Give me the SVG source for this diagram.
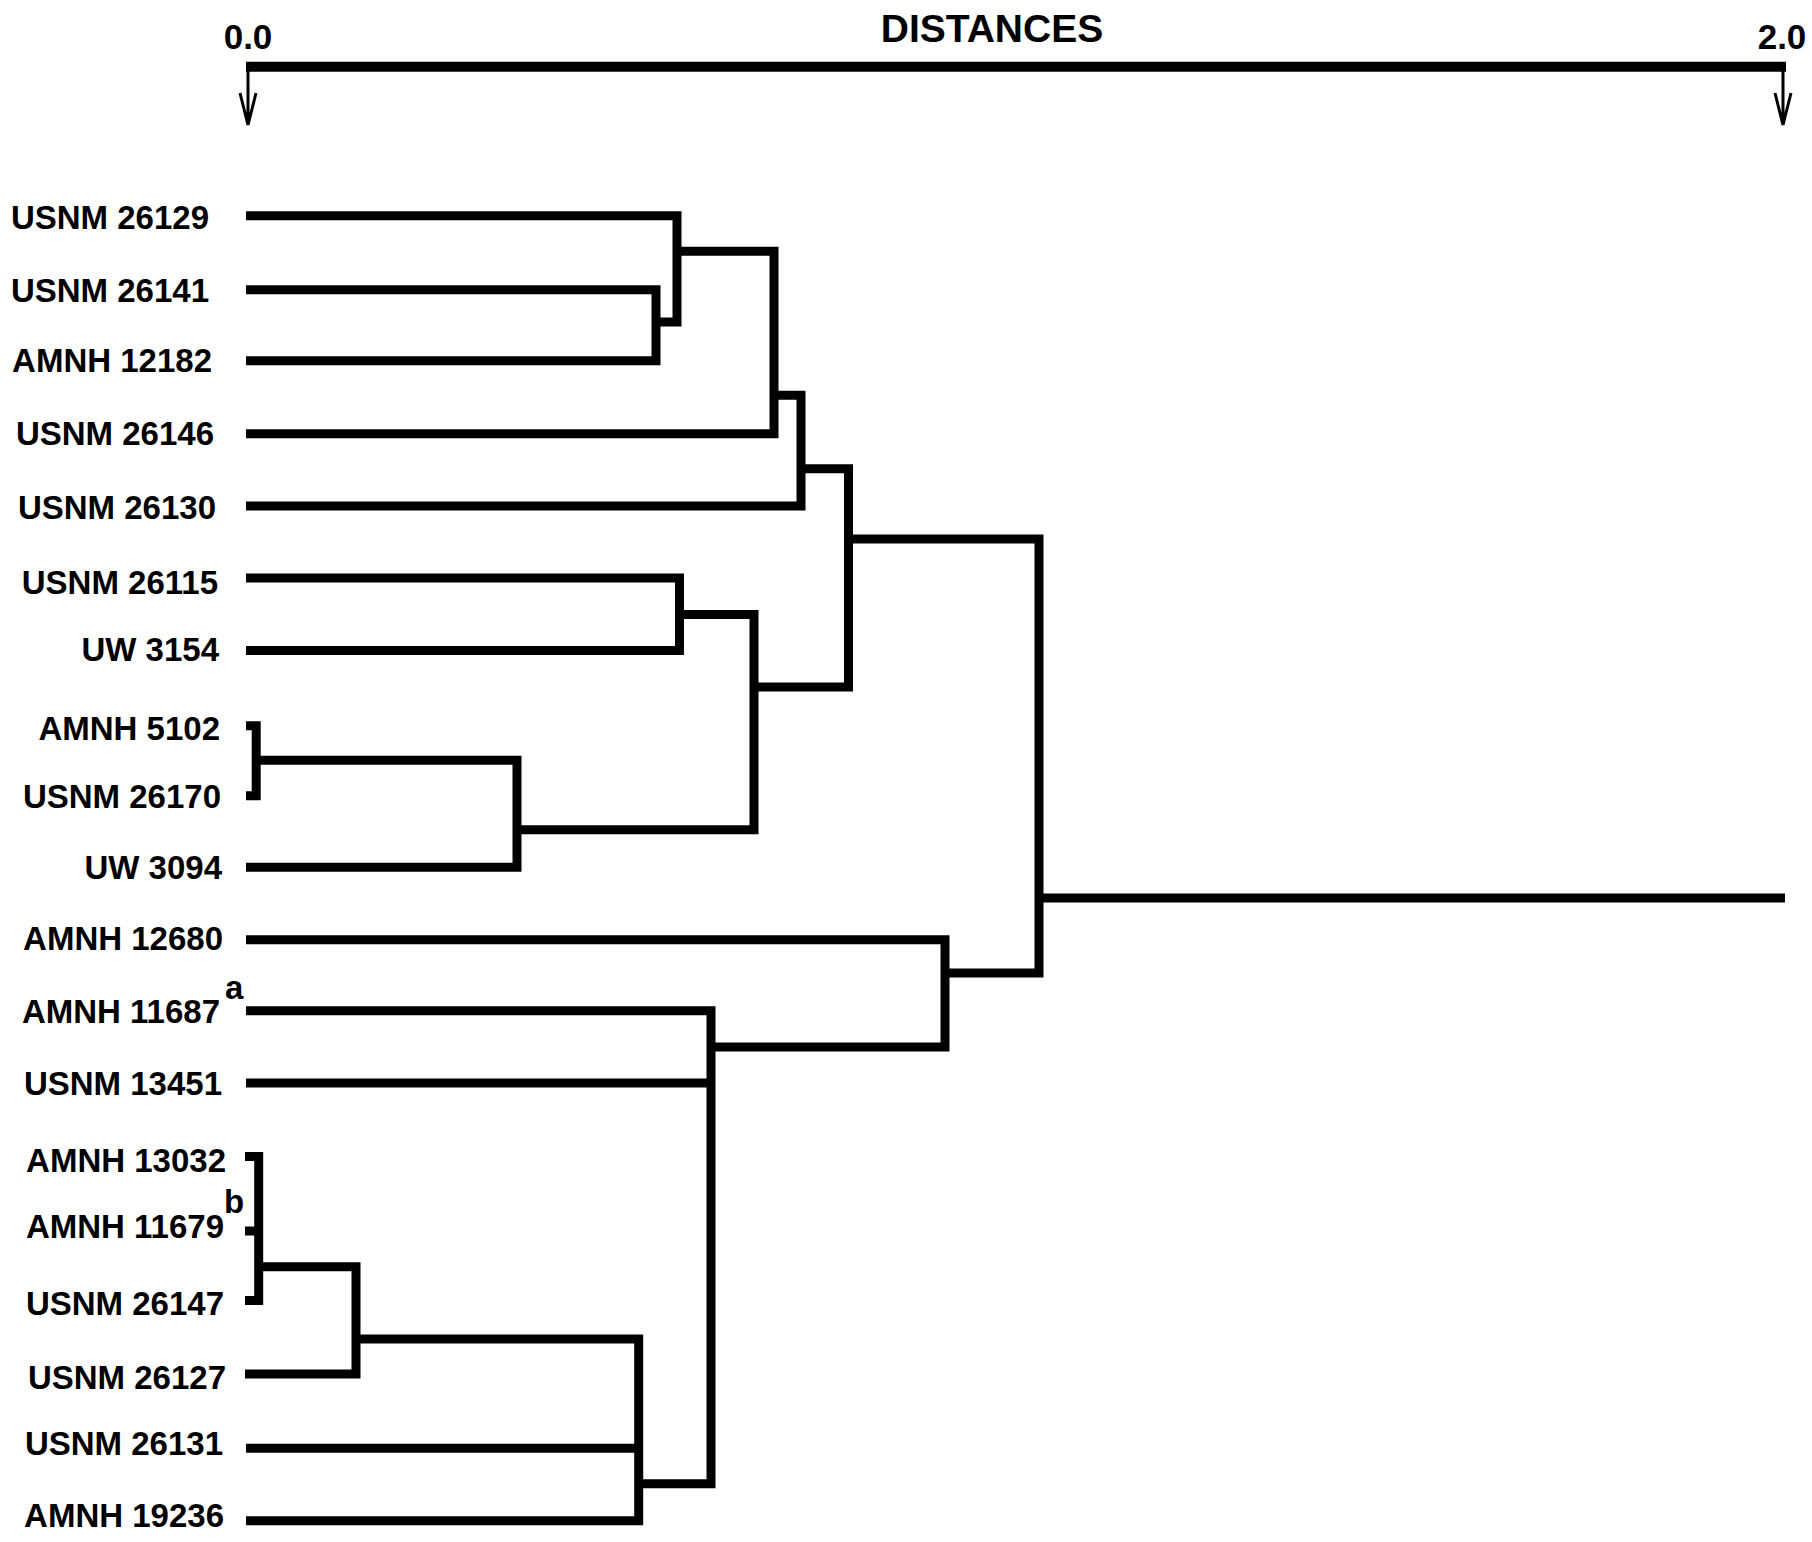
<svg xmlns="http://www.w3.org/2000/svg" width="1812" height="1542" viewBox="0 0 1812 1542">
<style>
.lbl{font-family:"Liberation Sans",Arial,sans-serif;font-weight:bold;font-size:33px;fill:#000;text-anchor:end}
.sup{font-family:"Liberation Sans",Arial,sans-serif;font-weight:bold;font-size:33px;fill:#000}
.ax{font-family:"Liberation Sans",Arial,sans-serif;font-weight:bold;fill:#000;text-anchor:middle}
.br{fill:none;stroke:#000;stroke-width:9;stroke-linecap:butt;stroke-linejoin:miter}
.thin{fill:none;stroke:#000;stroke-width:3;stroke-linecap:butt;stroke-linejoin:miter}
</style>
<rect width="1812" height="1542" fill="#fff"/>
<g id="axis">
<text class="ax" x="992" y="42" font-size="39">DISTANCES</text>
<text class="ax" x="248" y="49" font-size="35">0.0</text>
<text class="ax" x="1782" y="49" font-size="35">2.0</text>
<line x1="246" y1="66.7" x2="1786" y2="66.7" stroke="#000" stroke-width="10"/>
<path class="thin" d="M248,71 V124 M240,93 L248,125 L256,93"/>
<path class="thin" d="M1783,71 V124 M1775,93 L1783,125 L1791,93"/>
</g>
<g id="connectors">
<path class="br" d="M246,360.7 H656 V289.8 H246"/>
<path class="br" d="M656,322 H677 V215.8 H246"/>
<path class="br" d="M677,251.2 H774 V433.8 H246"/>
<path class="br" d="M774,395.3 H801 V506 H246"/>
<path class="br" d="M801,468.8 H848.5 V687 H754"/>
<path class="br" d="M246,578 H679.5 V650.5 H246"/>
<path class="br" d="M679.5,614.5 H754 V829.8 H517"/>
<path class="br" d="M246,725.8 H256.2 V795.8 H246"/>
<path class="br" d="M260,760.2 H517 V867.2 H246"/>
<path class="br" d="M848.5,539 H1039 V973 H945"/>
<path class="br" d="M1039,898 H1785"/>
<path class="br" d="M246,939.7 H945 V1047 H711"/>
<path class="br" d="M246,1010.7 H711 V1483.7 H638.7"/>
<path class="br" d="M246,1083 H711"/>
<path class="br" d="M245,1156.5 H258.7 V1300.5 H245 M245,1231 H258.7"/>
<path class="br" d="M263,1266.7 H356 V1374 H245"/>
<path class="br" d="M356,1339 H638.7 V1520.7 H246"/>
<path class="br" d="M246,1448.3 H638.7"/>
</g>
<g id="n-usnm26129"><text class="lbl" x="209" y="229">USNM 26129</text></g>
<g id="n-usnm26141"><text class="lbl" x="209" y="301.5">USNM 26141</text></g>
<g id="n-amnh12182"><text class="lbl" x="212" y="372">AMNH 12182</text></g>
<g id="n-usnm26146"><text class="lbl" x="214" y="445">USNM 26146</text></g>
<g id="n-usnm26130"><text class="lbl" x="216" y="518.5">USNM 26130</text></g>
<g id="n-usnm26115"><text class="lbl" x="218" y="593.5">USNM 26115</text></g>
<g id="n-uw3154"><text class="lbl" x="219" y="661">UW 3154</text></g>
<g id="n-amnh5102"><text class="lbl" x="220" y="740">AMNH 5102</text></g>
<g id="n-usnm26170"><text class="lbl" x="221" y="808">USNM 26170</text></g>
<g id="n-uw3094"><text class="lbl" x="222" y="879">UW 3094</text></g>
<g id="n-amnh12680"><text class="lbl" x="223" y="950">AMNH 12680</text></g>
<g id="n-amnh11687"><text class="lbl" x="220" y="1023">AMNH 11687</text><text class="sup" x="225" y="999">a</text></g>
<g id="n-usnm13451"><text class="lbl" x="222" y="1095">USNM 13451</text></g>
<g id="n-amnh13032"><text class="lbl" x="226" y="1172">AMNH 13032</text></g>
<g id="n-amnh11679"><text class="lbl" x="224" y="1238">AMNH 11679</text><text class="sup" x="224" y="1213">b</text></g>
<g id="n-usnm26147"><text class="lbl" x="224" y="1315">USNM 26147</text></g>
<g id="n-usnm26127"><text class="lbl" x="226" y="1389">USNM 26127</text></g>
<g id="n-usnm26131"><text class="lbl" x="223" y="1455">USNM 26131</text></g>
<g id="n-amnh19236"><text class="lbl" x="224" y="1527">AMNH 19236</text></g>
</svg>
